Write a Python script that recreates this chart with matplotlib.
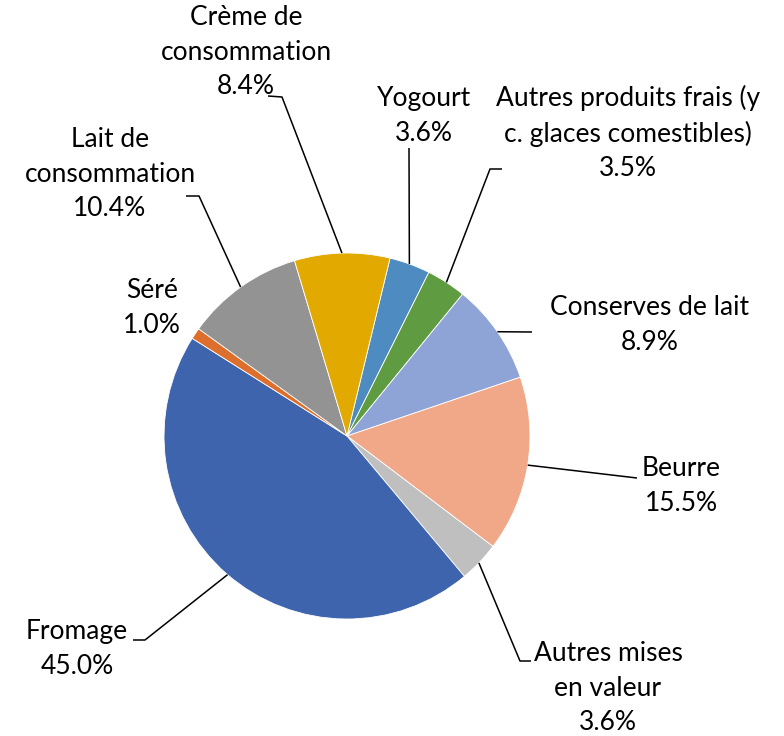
import numpy as np
import matplotlib.pyplot as plt

# Répartition de la mise en valeur du lait (sens horaire)
categories = ['Yogourt', 'Autres produits frais (y\nc. glaces comestibles)', 'Conserves de lait',
              'Beurre', 'Autres mises\nen valeur', 'Fromage', 'Séré',
              'Lait de\nconsommation', 'Crème de\nconsommation']
shares = [3.6, 3.5, 8.9, 15.5, 3.6, 45.0, 1.0, 10.4, 8.4]
colors = ['#4E8BC1', '#5F9B41', '#8FA4D6', '#F0A888', '#BFBFBF', '#3D64AD', '#DE6E2B', '#939393', '#E2AA00']

W, H = 784, 736
cx, cy, r = 347, H - 436, 183
start = 76.4

plt.rcParams['font.family'] = ['Lato', 'DejaVu Sans']
fig = plt.figure(figsize=(W / 100, H / 100), dpi=100)
ax = fig.add_axes([0, 0, 1, 1])

wedges, _ = ax.pie(shares, colors=colors, startangle=start, counterclock=False,
                   center=(cx, cy), radius=r, frame=True,
                   wedgeprops=dict(edgecolor='white', linewidth=0.6))
ax.set_xlim(0, W)
ax.set_ylim(0, H)
ax.axis('off')

# label centre (px from top-left), point near pie edge, elbow points of the leader line
label_pos = [(424, 116), (628, 133), (650, 325), (681, 486), (608, 688),
             (77, 649), (152, 308), (110, 174), (246, 52)]
anchors = [(409, 265), (446, 283), (497, 332), (527, 465), (479, 563),
           (229, 573), None, (242, 289), (342, 255)]
elbows = [[(409, 148)], [(490, 169), (502, 169)], [(532, 332)], [(637, 478)],
          [(520, 661), (531, 661)], [(145, 640), (133, 640)], [],
          [(199, 196), (186, 196)], [(282, 97), (268, 96)]]

for cat, val, pos, anc, elb in zip(categories, shares, label_pos, anchors, elbows):
    ax.text(pos[0], H - pos[1], f"{cat}\n{val:.1f}%", ha='center', va='center',
            fontsize=19, linespacing=1.47, color='#000000')
    if anc is not None:
        # snap the anchor onto the pie edge
        ang = np.arctan2((H - anc[1]) - cy, anc[0] - cx)
        px = cx + r * np.cos(ang)
        py = cy + r * np.sin(ang)
        xs = [px] + [p[0] for p in elb]
        ys = [py] + [H - p[1] for p in elb]
        ax.plot(xs, ys, color='black', lw=1.1, solid_capstyle='butt')

fig.savefig('out.png', dpi=100)
